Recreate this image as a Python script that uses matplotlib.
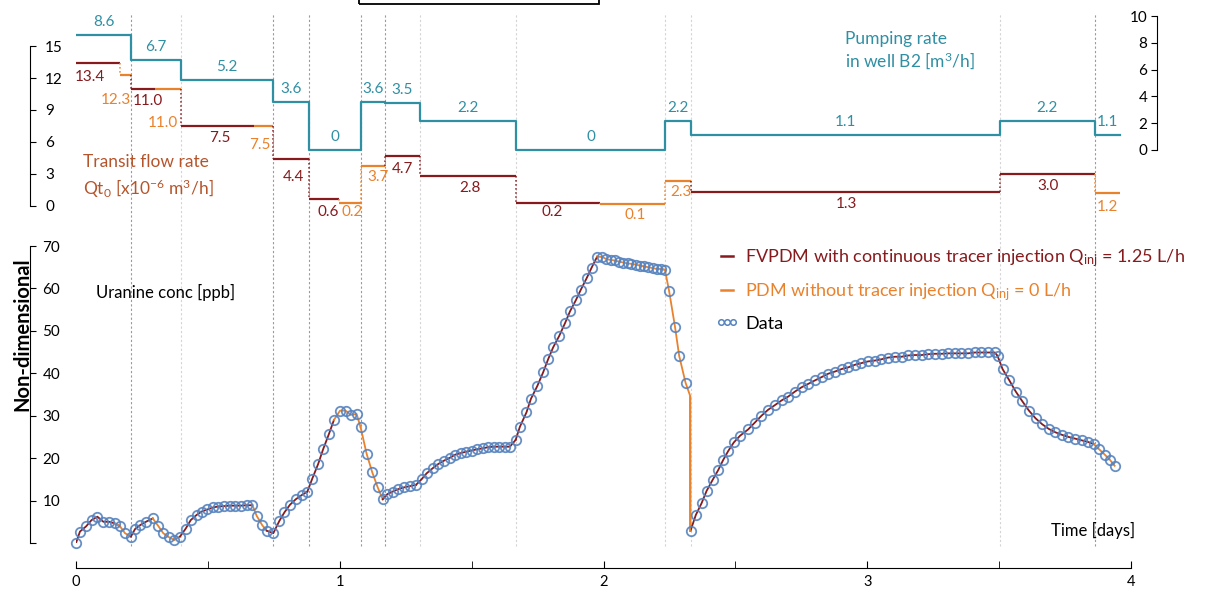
import numpy as np
import matplotlib
matplotlib.use('Agg')
import matplotlib.pyplot as plt
from matplotlib.lines import Line2D
from matplotlib.patches import Rectangle

plt.rcParams['font.family'] = ['Lato', 'DejaVu Sans']
plt.rcParams['mathtext.fontset'] = 'custom'
plt.rcParams['mathtext.rm'] = 'Lato'
plt.rcParams['mathtext.it'] = 'Lato:italic'
plt.rcParams['mathtext.bf'] = 'Lato:bold'

# Pumping rate in well B2 [m3/h], piecewise constant
pump_t0 = [0, 0.209, 0.398, 0.747, 0.883, 1.081, 1.172, 1.304, 1.668, 2.233, 2.332, 3.503, 3.863]
pump_end = 3.958
pump_q = [8.6, 6.7, 5.2, 3.6, 0, 3.6, 3.5, 2.2, 0, 2.2, 1.1, 2.2, 1.1]

# Transit flow rate Qt0 [x1e-6 m3/h] and which model applies (F = FVPDM, P = PDM)
tr_t0 = [0, 0.167, 0.209, 0.300, 0.398, 0.675, 0.747, 0.883, 0.997, 1.081, 1.172, 1.304,
         1.668, 1.987, 2.233, 2.332, 3.503, 3.863]
tr_t1 = [0.167, 0.209, 0.300, 0.398, 0.675, 0.747, 0.883, 0.997, 1.081, 1.172, 1.304, 1.668,
         1.987, 2.233, 2.332, 3.503, 3.863, 3.958]
tr_q = [13.4, 12.3, 11.0, 11.0, 7.5, 7.5, 4.4, 0.6, 0.2, 3.7, 4.7, 2.8, 0.2, 0.1, 2.3, 1.3, 3.0, 1.2]
tr_model = ['F', 'P', 'F', 'P', 'F', 'P', 'F', 'F', 'P', 'P', 'F', 'F', 'F', 'P', 'P', 'F', 'F', 'P']

# Uranine concentration data
conc_t = [0.000, 0.015, 0.038, 0.059, 0.081, 0.104, 0.126, 0.148, 0.167, 0.186, 0.208, 0.224,
          0.243, 0.265, 0.291, 0.312, 0.331, 0.354, 0.373, 0.394, 0.416, 0.435, 0.457, 0.476,
          0.498, 0.521, 0.539, 0.561, 0.584, 0.603, 0.625, 0.647, 0.669, 0.685, 0.706, 0.723,
          0.748, 0.771, 0.790, 0.811, 0.833, 0.856, 0.877, 0.896, 0.918, 0.937, 0.959, 0.978,
          1.001, 1.022, 1.042, 1.064, 1.079, 1.102, 1.123, 1.144, 1.163, 1.180, 1.200, 1.222,
          1.243, 1.266, 1.289, 1.310, 1.329, 1.352, 1.373, 1.395, 1.418, 1.437, 1.459, 1.478,
          1.500, 1.521, 1.542, 1.563, 1.585, 1.605, 1.626, 1.645, 1.667, 1.683, 1.708, 1.725,
          1.749, 1.771, 1.790, 1.809, 1.832, 1.854, 1.873, 1.895, 1.914, 1.936, 1.955, 1.976,
          1.996, 2.011, 2.028, 2.043, 2.060, 2.075, 2.091, 2.106, 2.123, 2.138, 2.154, 2.170,
          2.186, 2.201, 2.218, 2.233, 2.249, 2.271, 2.287, 2.311, 2.330, 2.350, 2.372, 2.391,
          2.414, 2.435, 2.454, 2.473, 2.494, 2.518, 2.549, 2.574, 2.599, 2.624, 2.650, 2.675,
          2.700, 2.726, 2.751, 2.776, 2.801, 2.827, 2.852, 2.877, 2.903, 2.928, 2.953, 2.978,
          3.003, 3.029, 3.054, 3.079, 3.105, 3.130, 3.155, 3.180, 3.206, 3.231, 3.256, 3.282,
          3.307, 3.332, 3.357, 3.382, 3.408, 3.433, 3.458, 3.484, 3.494, 3.513, 3.538, 3.563,
          3.588, 3.613, 3.638, 3.663, 3.688, 3.713, 3.738, 3.763, 3.788, 3.813, 3.838, 3.859,
          3.879, 3.901, 3.920, 3.938]
conc_c = [0.0, 2.7, 3.9, 5.4, 6.2, 5.0, 5.0, 4.6, 3.9, 2.3, 1.5, 3.3,
          4.2, 5.0, 5.8, 4.0, 2.3, 1.3, 0.7, 1.5, 3.4, 5.4, 6.6, 7.4,
          7.9, 8.4, 8.6, 8.7, 8.8, 8.8, 8.8, 8.9, 8.9, 6.4, 4.2, 2.9,
          2.3, 5.2, 7.2, 9.0, 10.3, 11.3, 12.1, 15.2, 18.6, 22.1, 25.7, 29.0,
          31.2, 31.2, 30.2, 30.4, 27.3, 21.0, 16.7, 13.1, 10.3, 11.5, 12.1, 12.7,
          13.1, 13.4, 13.7, 15.0, 16.4, 17.6, 18.6, 19.4, 20.1, 20.8, 21.2, 21.5,
          21.8, 22.1, 22.3, 22.6, 22.7, 22.7, 22.7, 22.7, 24.3, 27.4, 30.8, 34.0,
          37.0, 40.2, 43.3, 46.1, 48.8, 51.8, 54.6, 57.2, 59.7, 62.4, 64.9, 67.5,
          67.4, 66.9, 66.7, 66.6, 66.3, 66.1, 65.9, 65.8, 65.6, 65.4, 65.2, 65.0,
          64.8, 64.6, 64.6, 64.4, 59.3, 51.0, 44.1, 37.8, 2.9, 6.6, 9.4, 12.3,
          14.9, 17.2, 19.6, 21.7, 23.7, 25.3, 26.8, 28.4, 30.0, 31.4, 32.5, 33.6,
          34.5, 35.7, 36.7, 37.5, 38.3, 39.1, 39.9, 40.4, 41.0, 41.4, 42.0, 42.4,
          42.8, 43.0, 43.3, 43.7, 43.9, 43.9, 44.2, 44.3, 44.3, 44.5, 44.6, 44.6,
          44.7, 44.7, 44.7, 44.7, 44.9, 44.9, 44.9, 44.9, 44.1, 41.0, 38.4, 35.7,
          33.4, 31.2, 29.4, 28.0, 26.9, 26.1, 25.5, 25.0, 24.6, 24.2, 23.8, 23.3,
          22.1, 20.8, 19.6, 18.2]

# model point where the PDM curve leaves the data before the sudden drop
model_extra_t = [2.3295]
model_extra_c = [34.5]

# label placement (days, pixels below the step)
tr_lab_x = [0.053, 0.152, 0.273, 0.330, 0.546, 0.698, 0.823, 0.955, 1.046, 1.145, 1.236, 1.494,
            1.805, 2.119, 2.293, 2.923, 3.685, 3.912]
tr_lab_dy = [14, 25, 12, 34, 12, 19, 18, 13, 9, 11, 13, 12, 9, 11, 11, 12, 12, 14]
sep_dark = [True, False, True, True, True, True, False, False, False, False, False, True]

RED = '#861A1D'
ORANGE = '#E9822D'
TEAL = '#2F8FA3'
BLUE = '#5683BE'
BROWN = '#B5552C'
W, H = 1207, 590

fig = plt.figure(figsize=(W / 100, H / 100), dpi=100)
ax = fig.add_axes([76 / W, 47 / H, 1055 / W, 297 / H])
ax_q = fig.add_axes([76 / W, (H - 225) / H, 1055 / W, 215 / H])
ax_p = ax_q.twinx()

# vertical separators between pumping phases
for t, dark in zip(pump_t0[1:], sep_dark):
    ax.axvline(t, ymin=-0.01, ymax=1.78, clip_on=False, lw=0.8, ls=(0, (2, 2)),
               color='#9a9a9a' if dark else '#d4d4d4', zorder=0)

# concentration model, coloured by the model used in each phase
mt = np.array(conc_t + model_extra_t)
mc = np.array(conc_c + model_extra_c)
order = np.argsort(mt, kind='stable')
mt, mc = mt[order], mc[order]
for t0, t1, m in zip(tr_t0, tr_t1, tr_model):
    idx = np.where((mt >= t0 - 1e-6) & (mt <= t1 + 1e-6))[0]
    if len(idx) == 0:
        continue
    if idx[0] > 0:
        idx = np.concatenate([[idx[0] - 1], idx])
    ax.plot(mt[idx], mc[idx], color=RED if m == 'F' else ORANGE, lw=1.3, zorder=2)
# sudden drop of PDM at 2.33 days
ax.plot([model_extra_t[0], model_extra_t[0]], [model_extra_c[0], conc_c[conc_t.index(2.330)]],
        color=ORANGE, lw=1.3, zorder=2)

ax.plot(conc_t, conc_c, ls='none', marker='o', ms=6.8, mfc='none', mec=BLUE, mew=1.3,
        alpha=0.9, clip_on=False, zorder=3)

ax.set_xlim(0, 4)
ax.set_ylim(0, 70)
for s in ['top', 'right']:
    ax.spines[s].set_visible(False)
ax.spines['left'].set_position(('outward', 46 * 0.72))
ax.spines['left'].set_bounds(0, 70)
ax.spines['bottom'].set_position(('outward', 25 * 0.72))
ax.spines['bottom'].set_bounds(0, 4)
ax.set_xticks([0, 1, 2, 3, 4])
ax.set_xticks([0.5, 1.5, 2.5, 3.5], minor=True)
ax.set_yticks(range(0, 71, 10))
ax.set_yticklabels([''] + [str(v) for v in range(10, 71, 10)])
ax.tick_params(axis='x', which='both', direction='in', length=5, labelsize=10.5, pad=5)
ax.tick_params(axis='y', direction='in', length=4, labelsize=11, pad=-9)
for lbl in ax.get_yticklabels():
    lbl.set_horizontalalignment('left')
fig.text(22 / W, 1 - 334 / H, 'Non-dimensional', rotation=90, fontsize=14.5,
         fontweight='bold', ha='center', va='center')

# pumping rate steps
ax_p.step(pump_t0 + [pump_end], pump_q + [pump_q[-1]], where='post', color=TEAL, lw=1.6)
for t0, t1, q in zip(pump_t0, pump_t0[1:] + [pump_end], pump_q):
    ax_p.annotate('0' if q == 0 else f'{q:.1f}', xy=((t0 + t1) / 2, q), xytext=(0, 13),
                  textcoords='offset pixels', ha='center', va='center', color=TEAL, fontsize=11)

# transit flow rate steps
for i, (t0, t1, q, m) in enumerate(zip(tr_t0, tr_t1, tr_q, tr_model)):
    c = RED if m == 'F' else ORANGE
    ax_q.plot([t0, t1], [q, q], color=c, lw=1.6, solid_capstyle='butt')
    if i > 0 and tr_q[i - 1] != q:
        ax_q.plot([t0, t0], [tr_q[i - 1], q], color=c, lw=1.1, ls=':')
    ax_q.annotate(f'{q:.1f}', xy=(tr_lab_x[i], q), xytext=(0, -tr_lab_dy[i]),
                  textcoords='offset pixels', ha='center', va='center', color=c, fontsize=11)

ax_q.set_xlim(0, 4)
ax_q.set_ylim(-1.83, 18.4)
ax_p.set_ylim(-5.6, 10.45)
ax_q.patch.set_visible(False)
ax_p.patch.set_visible(False)
for s in ['top', 'right', 'bottom']:
    ax_q.spines[s].set_visible(False)
for s in ['top', 'left', 'bottom']:
    ax_p.spines[s].set_visible(False)
ax_q.spines['left'].set_position(('outward', 46 * 0.72))
ax_q.spines['left'].set_bounds(0, 15)
ax_q.set_yticks(range(0, 16, 3))
ax_q.tick_params(axis='y', direction='in', length=4, labelsize=11, pad=-11)
for lbl in ax_q.get_yticklabels():
    lbl.set_horizontalalignment('left')
ax_q.set_xticks([])
ax_p.spines['right'].set_position(('outward', 26 * 0.72))
ax_p.spines['right'].set_bounds(0, 10)
ax_p.set_yticks(range(0, 11, 2))
ax_p.tick_params(axis='y', direction='in', length=4, labelsize=11, pad=-7)
for lbl in ax_p.get_yticklabels():
    lbl.set_horizontalalignment('right')

# text annotations
fig.text(83 / W, 1 - 177 / H, 'Transit flow rate\nQt$_{\\mathregular{0}}$ [x10$^{\\mathregular{-6}}$ m$^{\\mathregular{3}}$/h]',
         color=BROWN, fontsize=12.5, ha='left', va='center', linespacing=1.4)
fig.text(845 / W, 1 - 51 / H, 'Pumping rate\nin well B2 [m$^{\\mathregular{3}}$/h]',
         color=TEAL, fontsize=12.5, ha='left', va='center', linespacing=1.25)
fig.text(96 / W, 1 - 292 / H, 'Uranine conc [ppb]', fontsize=12, ha='left', va='center')
fig.text(1135 / W, 1 - 530 / H, 'Time [days]', fontsize=12, ha='right', va='center')

handles = [Line2D([], [], color=RED, lw=1.8),
           Line2D([], [], color=ORANGE, lw=1.8),
           Line2D([], [], ls='none', marker='o', ms=4, mfc='none', mec=BLUE, mew=1.1)]
labels = ['FVPDM with continuous tracer injection Q$_{\\mathregular{inj}}$ = 1.25 L/h',
          'PDM without tracer injection Q$_{\\mathregular{inj}}$ = 0 L/h',
          'Data']
leg = ax.legend(handles, labels, loc='upper left', bbox_to_anchor=(708 / W, 1 - 240 / H),
                bbox_transform=fig.transFigure, frameon=False, fontsize=13, numpoints=3,
                handlelength=1.3, handletextpad=0.35, labelspacing=0.7, borderaxespad=0)
for txt, c in zip(leg.get_texts(), [RED, ORANGE, 'black']):
    txt.set_color(c)

# box cut off at the top edge
fig.patches.append(Rectangle((359 / W, 1 - 4 / H), 240 / W, 30 / H, transform=fig.transFigure,
                             fill=False, ec='black', lw=1.3))

fig.savefig('out.png', dpi=100)
